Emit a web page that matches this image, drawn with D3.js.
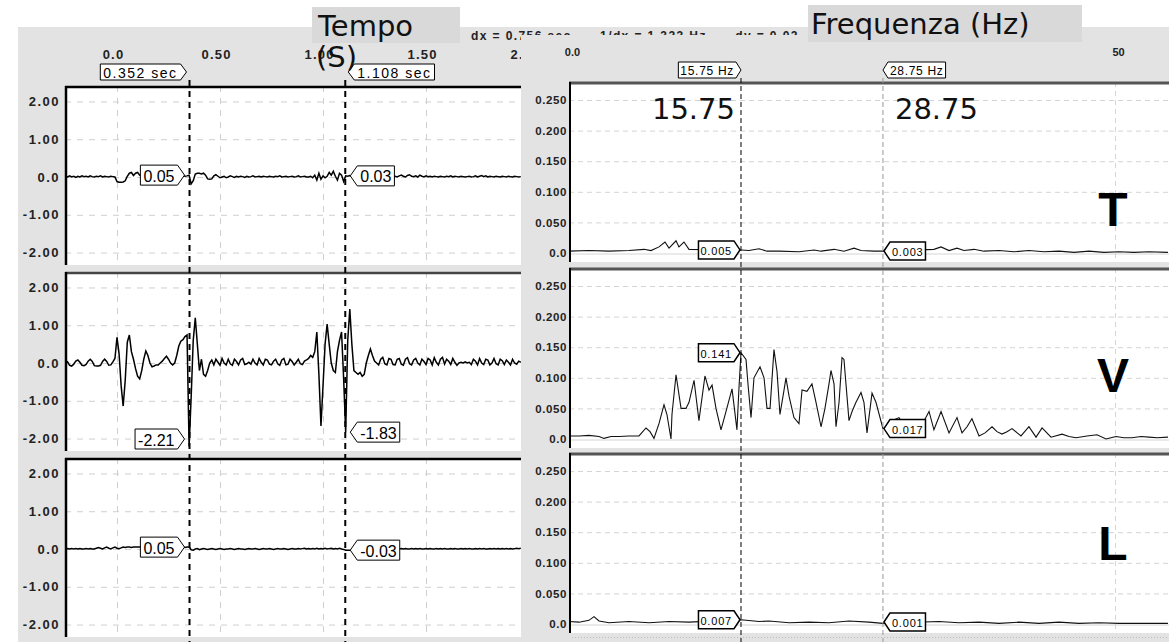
<!DOCTYPE html>
<html>
<head>
<meta charset="utf-8">
<script src="https://cdn.jsdelivr.net/npm/d3@7/dist/d3.min.js"></script>
<style>
  body { margin: 0; background: #fff; }
  svg { display: block; font-family: "Liberation Sans", Arial, sans-serif; }
</style>
</head>
<body>
<svg id="chart" width="1169" height="642"></svg>
<script>
// time signals: one sample every 10 ms, first sample at -0.25 s
const timeStart = -0.25;
const timeStep = 0.01;

const signalT = [
  0.02, 0.0, 0.03, 0.0, 0.02, -0.01, 0.02, 0.0, 0.03, 0.01,
  0.02, 0.0, 0.03, 0.01, 0.0, 0.02, 0.01, 0.03, 0.0, 0.02,
  0.01, 0.0, 0.02, 0.01, 0.0, -0.12, -0.14, -0.14, -0.13, -0.1,
  0.02, 0.1, 0.12, 0.04, 0.1, 0.12, 0.05, 0.03, 0.05, 0.02,
  0.04, 0.03, 0.05, 0.02, 0.04, 0.03, 0.05, 0.02, 0.04, 0.06,
  0.03, 0.05, 0.02, 0.04, 0.06, 0.03, 0.05, 0.04, 0.02, 0.03,
  0.05, -0.18, -0.1, 0.08, 0.1, 0.1, 0.08, 0.1, 0.05, -0.05,
  -0.06, -0.05, 0.03, 0.06, 0.02, -0.02, 0.0, 0.02, -0.02, 0.0,
  0.03, 0.01, -0.01, 0.02, 0.0, 0.02, 0.01, -0.01, 0.02, 0.0,
  0.01, 0.03, 0.0, 0.01, 0.02, 0.0, 0.02, 0.01, 0.0, 0.02,
  0.01, 0.0, 0.02, 0.01, 0.03, 0.0, 0.01, 0.02, 0.0, 0.01,
  0.02, 0.0, 0.01, 0.03, 0.0, 0.01, 0.02, 0.0, 0.0, 0.02,
  -0.02, 0.05, -0.08, 0.1, -0.06, 0.03, -0.02, 0.02, 0.12, 0.05,
  0.15, 0.02, -0.08, 0.1, 0.05, -0.12, 0.03, 0.02, 0.04, 0.01,
  0.03, 0.02, 0.0, 0.03, 0.01, 0.02, 0.04, 0.01, 0.02, 0.0,
  0.02, 0.03, 0.01, 0.02, 0.0, 0.03, 0.01, 0.02, 0.0, 0.01,
  0.02, 0.0, 0.03, 0.05, 0.02, 0.0, 0.04, 0.06, 0.02, 0.01,
  0.03, 0.0, 0.05, 0.02, 0.0, 0.03, 0.01, 0.02, 0.0, 0.02,
  0.01, 0.0, 0.02, 0.01, 0.0, 0.02, 0.01, 0.03, 0.0, 0.02,
  0.01, 0.0, 0.02, 0.01, 0.0, 0.01, 0.02, 0.0, 0.01, 0.03,
  0.0, 0.02, 0.04, 0.01, 0.03, 0.0, 0.02, 0.01, 0.0, 0.02,
  0.01, 0.0, 0.02, 0.01, 0.0, 0.02, 0.01, 0.0, 0.02, 0.01,
  0.0, 0.01
];

const signalV = [
  0.0, 0.03, -0.06, -0.08, -0.03, 0.05, 0.08, 0.02, -0.06, -0.07,
  -0.04, 0.05, 0.1, 0.04, -0.07, -0.08, -0.08, -0.06, 0.04, 0.1,
  0.04, -0.06, -0.05, 0.03, 0.12, 0.68, 0.25, -0.6, -1.14, -0.45,
  0.55, 0.74, 0.3, 0.1, -0.15, -0.35, -0.42, -0.2, 0.1, 0.32,
  0.2, 0.0, -0.1, -0.08, -0.05, -0.05, 0.0, 0.05, 0.12, 0.18,
  0.1, 0.0, -0.05, 0.0, 0.2, 0.45, 0.58, 0.62, 0.7, 0.74,
  -2.21, -0.9, 0.6, 1.2, 0.5, -0.2, 0.1, -0.3, -0.35, -0.2,
  0.0, 0.08, -0.05, 0.1, 0.02, -0.06, 0.12, 0.0, -0.05, 0.1,
  -0.02, -0.06, 0.1, 0.04, -0.05, 0.08, 0.12, -0.04, -0.02, 0.02,
  -0.03, 0.1, 0.0, -0.05, 0.12, 0.02, -0.05, 0.1, 0.08, -0.03,
  -0.05, 0.05, 0.1, -0.02, -0.06, 0.08, 0.12, -0.05, -0.03, 0.1,
  0.04, -0.05, 0.02, 0.1, -0.02, -0.04, 0.05, 0.08, 0.12, 0.2,
  0.15, 0.3, 0.82, -0.3, -1.67, -0.6, 0.5, 1.03, 0.5, 0.0,
  -0.2, -0.25, 0.3, 0.6, 0.82, -0.4, -1.83, 0.6, 1.43, 0.5,
  -0.2, -0.25, -0.3, -0.25, -0.35, -0.3, 0.0, 0.2, 0.37, 0.2,
  0.05, 0.0, -0.05, 0.1, 0.15, -0.02, -0.05, 0.12, 0.1, -0.04,
  -0.05, 0.1, 0.12, -0.03, -0.06, 0.1, 0.14, -0.02, -0.05, 0.08,
  0.12, 0.0, -0.05, 0.1, 0.04, -0.04, 0.12, 0.08, -0.05, 0.14,
  0.02, -0.05, 0.1, 0.15, -0.03, 0.1, 0.05, -0.04, 0.12, 0.02,
  -0.06, 0.0, 0.02, 0.0, 0.03, 0.0, 0.02, -0.04, 0.1, 0.05,
  -0.05, 0.12, 0.0, -0.04, 0.1, 0.08, -0.05, 0.0, 0.12, -0.02,
  -0.05, 0.1, 0.06, -0.04, 0.08, 0.02, -0.05, 0.1, 0.0, -0.03,
  0.05, 0.02
];

const signalL = [
  0.0, 0.01, 0.0, 0.01, 0.0, 0.01, 0.0, 0.01, 0.0, 0.0,
  0.01, 0.0, 0.01, 0.0, 0.0, 0.02, 0.04, 0.02, 0.0, 0.03,
  0.05, 0.02, 0.0, 0.03, 0.05, 0.02, 0.01, 0.03, 0.05, 0.04,
  0.05, 0.05, 0.04, 0.05, 0.05, 0.05, 0.05, 0.05, 0.05, 0.05,
  0.05, 0.05, 0.05, 0.05, 0.05, 0.05, 0.05, 0.05, 0.05, 0.05,
  0.05, 0.05, 0.05, 0.05, 0.05, 0.05, 0.05, 0.05, 0.04, 0.05,
  0.05, -0.02, -0.03, 0.0, 0.01, -0.02, 0.0, 0.01, 0.0, -0.01,
  0.0, 0.01, 0.0, -0.01, 0.0, 0.01, 0.0, -0.01, 0.0, 0.0,
  0.01, 0.0, -0.01, 0.0, 0.01, 0.0, 0.0, -0.01, 0.0, 0.01,
  0.0, 0.0, 0.01, 0.0, -0.01, 0.0, 0.01, 0.0, 0.0, 0.01,
  0.0, -0.01, 0.0, 0.01, 0.0, 0.0, 0.01, 0.0, -0.01, 0.0,
  0.01, 0.0, 0.0, 0.01, 0.0, 0.01, 0.02, 0.0, 0.01, 0.0,
  0.01, 0.0, 0.02, 0.0, 0.01, 0.0, 0.02, 0.0, 0.01, 0.02,
  0.0, 0.01, 0.0, 0.02, 0.0, -0.01, -0.03, -0.03, -0.03, -0.03,
  -0.03, -0.02, -0.02, -0.02, -0.02, -0.02, -0.02, -0.02, -0.02, -0.02,
  -0.02, -0.02, -0.02, -0.02, -0.02, -0.02, -0.02, -0.02, -0.01, 0.0,
  0.01, 0.0, 0.0, 0.01, 0.0, 0.01, 0.0, 0.0, 0.01, 0.0,
  0.01, 0.0, 0.01, 0.0, 0.0, 0.01, 0.0, 0.01, 0.0, 0.0,
  0.01, 0.0, 0.01, 0.0, 0.01, 0.0, 0.0, 0.01, 0.0, 0.01,
  0.0, 0.0, 0.01, 0.0, 0.01, 0.0, 0.01, 0.0, 0.0, 0.01,
  0.0, 0.01, 0.0, 0.01, 0.0, 0.0, 0.01, 0.0, 0.01, 0.0,
  0.01, 0.0, 0.01, 0.0, 0.01, 0.0, 0.01, 0.0, 0.01, 0.02,
  0.01, 0.02
];

const timeTicks = [0, 0.5, 1, 1.5, 2];
const timeTickLabels = ['0.0', '0.50', '1.00', '1.50', '2.00'];
const ampTicks = [2, 1, 0, -1, -2];
const ampTickLabels = ['2.00', '1.00', '0.0', '-1.00', '-2.00'];
const timeCursors = [0.352, 1.108];
const timeCursorLabels = ['0.352 sec', '1.108 sec'];
const timeCursorValues = [[0.05, 0.03], [-2.21, -1.83], [0.05, -0.03]];
const timeCursorText = [['0.05', '0.03'], ['-2.21', '-1.83'], ['0.05', '-0.03']];
const timeInfo = 'dx = 0.756 sec      1/dx = 1.323 Hz      dy = 0.02';

// spectra (Hz, amplitude)
const specTHz = [0, 1.83, 3.66, 5.49, 6.87, 7.51, 8.24, 8.79, 9.16, 9.8,
  10.07, 10.53, 10.99, 15.75, 16.48, 17.4, 18.13, 19.23, 21.06, 22.44,
  23.08, 24.27, 25.18, 26.1, 26.74, 27.93, 28.75, 33.42, 34.07, 34.8,
  35.53, 36.17, 37.09, 38.0, 39.38, 40.75, 42.12, 43.5, 44.87, 46.25,
  47.62, 48.99, 50.37, 51.74, 53.11, 54.85];
const specTAmp = [0.003, 0.004, 0.003, 0.004, 0.006, 0.004, 0.01, 0.018, 0.008, 0.02,
  0.01, 0.018, 0.006, 0.005, 0.004, 0.007, 0.003, 0.003, 0.002, 0.005,
  0.003, 0.006, 0.003, 0.008, 0.004, 0.003, 0.003, 0.006, 0.01, 0.004,
  0.008, 0.004, 0.006, 0.003, 0.004, 0.002, 0.004, 0.002, 0.003, 0.001,
  0.003, 0.001, 0.002, 0.001, 0.002, 0.001];

const specVHz = [0, 0.92, 1.83, 2.75, 3.2, 3.85, 4.58, 5.49, 6.41, 7.05,
  7.42, 7.78, 8.24, 8.7, 8.97, 9.34, 9.43, 9.8, 10.26, 10.71,
  10.99, 11.45, 11.9, 12.45, 12.82, 13.1, 13.46, 13.92, 14.38, 14.93,
  15.38, 15.57, 15.75, 16.21, 16.39, 16.67, 16.94, 17.49, 17.86, 18.13,
  18.41, 18.77, 19.05, 19.32, 19.69, 19.87, 20.15, 20.6, 21.06, 21.34,
  21.79, 22.25, 22.62, 23.08, 23.44, 23.81, 23.99, 24.27, 24.45, 24.73,
  25.0, 25.18, 25.64, 25.92, 26.28, 26.74, 27.01, 27.29, 27.75, 28.11,
  28.75, 29.03, 29.58, 30.22, 30.77, 31.59, 32.23, 32.97, 33.42, 34.07,
  34.8, 35.53, 35.99, 36.45, 36.9, 37.55, 38.1, 38.74, 39.19, 39.65,
  40.11, 40.57, 41.39, 42.12, 42.77, 43.32, 44.14, 45.15, 45.79, 46.43,
  47.44, 48.35, 49.18, 50.09, 50.82, 51.56, 52.38, 53.11, 53.85, 54.85];
const specVAmp = [0.005, 0.005, 0.006, 0.004, 0.001, 0.004, 0.004, 0.005, 0.005, 0.018,
  0.012, 0.001, 0.025, 0.056, 0.04, 0.0, 0.04, 0.105, 0.05, 0.05,
  0.06, 0.096, 0.03, 0.103, 0.08, 0.088, 0.05, 0.015, 0.045, 0.082,
  0.015, 0.085, 0.141, 0.13, 0.09, 0.035, 0.1, 0.118, 0.1, 0.05,
  0.05, 0.146, 0.11, 0.04, 0.08, 0.1, 0.07, 0.035, 0.025, 0.08,
  0.078, 0.09, 0.06, 0.02, 0.05, 0.09, 0.112, 0.09, 0.02, 0.06,
  0.133, 0.13, 0.03, 0.045, 0.06, 0.076, 0.06, 0.01, 0.075, 0.06,
  0.017, 0.02, 0.03, 0.035, 0.02, 0.015, 0.02, 0.045, 0.015, 0.045,
  0.01, 0.035, 0.01, 0.02, 0.033, 0.005, 0.01, 0.02, 0.012, 0.008,
  0.012, 0.017, 0.005, 0.02, 0.003, 0.018, 0.003, 0.008, 0.004, 0.002,
  0.005, 0.007, 0.0, 0.004, 0.002, 0.002, 0.004, 0.003, 0.002, 0.003];

const specLHz = [0, 0.92, 1.83, 2.29, 2.75, 3.66, 5.49, 7.33, 9.16, 10.99,
  15.75, 17.4, 18.32, 20.15, 21.98, 23.81, 25.64, 27.47, 28.75, 33.88,
  35.71, 37.55, 39.38, 41.21, 43.04, 44.87, 46.7, 48.53, 50.37, 52.2, 54.85];
const specLAmp = [0.004, 0.003, 0.006, 0.012, 0.005, 0.002, 0.004, 0.002, 0.004, 0.003,
  0.007, 0.004, 0.005, 0.002, 0.003, 0.002, 0.005, 0.003, 0.001, 0.004,
  0.002, 0.003, 0.001, 0.003, 0.001, 0.003, 0.001, 0.002, 0.001, 0.001, 0.001];

const freqTicks = [0, 50];
const freqTickLabels = ['0.0', '50'];
const specTicks = [0.25, 0.2, 0.15, 0.1, 0.05, 0];
const specTickLabels = ['0.250', '0.200', '0.150', '0.100', '0.050', '0.0'];
const freqCursors = [15.75, 28.75];
const freqCursorLabels = ['15.75 Hz', '28.75 Hz'];
const freqCursorValues = [[0.005, 0.003], [0.141, 0.017], [0.007, 0.001]];
const freqCursorText = [['0.005', '0.003'], ['0.141', '0.017'], ['0.007', '0.001']];
const componentNames = ['T', 'V', 'L'];

// ---------------------------------------------------------------------------
const GRAY = '#e3e3e3';
const svg = d3.select('#chart');
const defs = svg.append('defs');

function callout(parent, label, tipX, cy, dir, o) {
  const g = parent.append('g');
  const text = g.append('text')
    .attr('font-size', o.size)
    .attr('letter-spacing', o.spacing || 0)
    .attr('fill', '#000')
    .attr('dominant-baseline', 'central')
    .text(label);
  const w = text.node().getComputedTextLength() + 2 * o.pad;
  const h = o.h, a = o.arrow;
  let x0, pts;
  if (dir > 0) {
    x0 = tipX - a - w;
    pts = [[x0, cy - h / 2], [tipX - a, cy - h / 2], [tipX, cy], [tipX - a, cy + h / 2], [x0, cy + h / 2]];
  } else {
    x0 = tipX + a;
    pts = [[tipX, cy], [x0, cy - h / 2], [x0 + w, cy - h / 2], [x0 + w, cy + h / 2], [x0, cy + h / 2]];
  }
  g.insert('path', 'text')
    .attr('d', d3.line()(pts) + 'Z')
    .attr('fill', '#fff')
    .attr('stroke', '#000')
    .attr('stroke-width', o.sw || 1);
  text.attr('x', x0 + o.pad).attr('y', cy + 1);
}

// ---------------- left: time signals ----------------
svg.append('rect').attr('x', 18).attr('y', 27).attr('width', 1151).attr('height', 615).attr('fill', GRAY);

const left = svg.append('g');
const xTime = d3.scaleLinear().domain([-0.2524, 1.961]).range([65, 521]);
const panelTopsL = [86, 272, 458];
const panelHL = 179;
const signals = [signalT, signalV, signalL];

left.append('g')
  .attr('transform', 'translate(-4, 59)')
  .call(d3.axisTop(xTime).tickValues(timeTicks).tickFormat((d, i) => timeTickLabels[i]).tickSize(0).tickPadding(0))
  .call(g => g.select('.domain').remove())
  .call(g => g.selectAll('text')
    .attr('font-family', '"Liberation Sans", Arial, sans-serif')
    .attr('font-size', 13).attr('font-weight', 'bold').attr('letter-spacing', 1.2).attr('fill', '#222'));

signals.forEach((series, p) => {
  const top = panelTopsL[p];
  const y = d3.scaleLinear().domain([-2.33, 2.41]).range([top + panelHL, top]);
  const g = left.append('g');
  g.append('rect').attr('x', 65).attr('y', top).attr('width', 456).attr('height', panelHL).attr('fill', '#fff');

  g.append('g')
    .attr('transform', 'translate(65,0)')
    .call(d3.axisLeft(y).tickValues(ampTicks).tickSize(-456).tickFormat(''))
    .call(a => a.select('.domain').remove())
    .call(a => a.selectAll('line').attr('stroke', '#cfcfcf').attr('stroke-dasharray', '6,6'));
  g.append('g')
    .attr('transform', `translate(0,${top})`)
    .call(d3.axisTop(xTime).tickValues([0, 0.5, 1, 1.5]).tickSize(-panelHL).tickFormat(''))
    .call(a => a.select('.domain').remove())
    .call(a => a.selectAll('line').attr('stroke', '#cfcfcf').attr('stroke-dasharray', '6,6'));

  g.append('g')
    .attr('transform', 'translate(65,0)')
    .call(d3.axisLeft(y).tickValues(ampTicks).tickFormat((d, i) => ampTickLabels[i]).tickSize(0).tickPadding(5))
    .call(a => a.select('.domain').remove())
    .call(a => a.selectAll('text')
      .attr('font-family', '"Liberation Sans", Arial, sans-serif')
      .attr('font-size', 13).attr('font-weight', 'bold').attr('letter-spacing', 1.5).attr('fill', '#222'));

  defs.append('clipPath').attr('id', 'clipL' + p)
    .append('rect').attr('x', 65).attr('y', top).attr('width', 456).attr('height', panelHL);
  g.append('path')
    .datum(series)
    .attr('clip-path', `url(#clipL${p})`)
    .attr('fill', 'none')
    .attr('stroke', '#000')
    .attr('stroke-width', 1.5)
    .attr('d', d3.line().x((d, i) => xTime(timeStart + i * timeStep)).y(d => y(d)));

  g.append('line').attr('x1', 65).attr('x2', 521).attr('y1', top + 1).attr('y2', top + 1)
    .attr('stroke', p === 1 ? '#444' : '#000').attr('stroke-width', 2.5);
  g.append('line').attr('x1', 66).attr('x2', 66).attr('y1', top).attr('y2', top + panelHL)
    .attr('stroke', '#000').attr('stroke-width', 2.5);
});

// time cursors
timeCursors.forEach((c, k) => {
  left.append('line')
    .attr('x1', xTime(c)).attr('x2', xTime(c)).attr('y1', 80).attr('y2', 642)
    .attr('stroke', '#000').attr('stroke-width', 2).attr('stroke-dasharray', '6,5');
  const dir = k === 0 ? 1 : -1;
  callout(left, timeCursorLabels[k], xTime(c) - 3 * dir, 72, dir, { size: 14, spacing: 1.5, pad: 3, h: 16, arrow: 6 });
  signals.forEach((s, p) => {
    const top = panelTopsL[p];
    const y = d3.scaleLinear().domain([-2.33, 2.41]).range([top + panelHL, top]);
    const cy = Math.max(top + 12, Math.min(top + panelHL - 12, y(timeCursorValues[p][k])));
    callout(left, timeCursorText[p][k], xTime(c) - 5 * dir, cy, dir, { size: 16, pad: 3, h: 20, arrow: 7 });
  });
});

left.append('text').attr('x', 471).attr('y', 40)
  .attr('font-size', 12).attr('font-weight', 'bold').attr('letter-spacing', 1.4).attr('fill', '#222')
  .attr('xml:space', 'preserve').style('white-space', 'pre')
  .text(timeInfo);

// ---------------- right: spectra ----------------
svg.append('rect').attr('x', 521).attr('y', 35).attr('width', 648).attr('height', 607).attr('fill', GRAY);
const right = svg.append('g');
const xFreq = d3.scaleLinear().domain([0, 55]).range([569, 1169.6]);
const panelTopsR = [82, 268, 453];
const panelHR = 180;
const spectra = [[specTHz, specTAmp], [specVHz, specVAmp], [specLHz, specLAmp]];

right.append('g')
  .attr('transform', 'translate(3, 56)')
  .call(d3.axisTop(xFreq).tickValues(freqTicks).tickFormat((d, i) => freqTickLabels[i]).tickSize(0).tickPadding(0))
  .call(g => g.select('.domain').remove())
  .call(g => g.selectAll('text')
    .attr('font-family', '"Liberation Sans", Arial, sans-serif')
    .attr('font-size', 11).attr('font-weight', 'bold').attr('fill', '#222'));

spectra.forEach(([hz, amp], p) => {
  const top = panelTopsR[p];
  const y = d3.scaleLinear().domain([-0.0147, 0.2794]).range([top + panelHR, top]);
  const g = right.append('g');
  g.append('rect').attr('x', 569).attr('y', top).attr('width', 600).attr('height', panelHR).attr('fill', '#fff');

  g.append('g')
    .attr('transform', 'translate(569,0)')
    .call(d3.axisLeft(y).tickValues(specTicks.slice(0, 5)).tickSize(-600).tickFormat(''))
    .call(a => a.select('.domain').remove())
    .call(a => a.selectAll('line').attr('stroke', '#d4d4d4').attr('stroke-dasharray', '5,4'));
  g.append('line').attr('x1', 569).attr('x2', 1169).attr('y1', y(0) + 1).attr('y2', y(0) + 1)
    .attr('stroke', '#d4d4d4');
  g.append('g')
    .attr('transform', `translate(0,${top})`)
    .call(d3.axisTop(xFreq).tickValues([50]).tickSize(-panelHR).tickFormat(''))
    .call(a => a.select('.domain').remove())
    .call(a => a.selectAll('line').attr('stroke', '#d4d4d4').attr('stroke-dasharray', '5,4'));

  g.append('g')
    .attr('transform', 'translate(568,0)')
    .call(d3.axisLeft(y).tickValues(specTicks).tickFormat((d, i) => specTickLabels[i]).tickSize(0).tickPadding(1))
    .call(a => a.select('.domain').remove())
    .call(a => a.selectAll('text')
      .attr('font-family', '"Liberation Sans", Arial, sans-serif')
      .attr('font-size', 11.5).attr('font-weight', 'bold').attr('letter-spacing', 0.6).attr('fill', '#222'));

  defs.append('clipPath').attr('id', 'clipR' + p)
    .append('rect').attr('x', 569).attr('y', top).attr('width', 600).attr('height', panelHR);
  g.append('path')
    .datum(hz.map((f, i) => [f, amp[i]]))
    .attr('clip-path', `url(#clipR${p})`)
    .attr('fill', 'none')
    .attr('stroke', '#111')
    .attr('stroke-width', 1.1)
    .attr('d', d3.line().x(d => xFreq(d[0])).y(d => y(d[1])));

  g.append('line').attr('x1', 569).attr('x2', 1169).attr('y1', top + 1).attr('y2', top + 1)
    .attr('stroke', '#555').attr('stroke-width', 3);
  g.append('line').attr('x1', 570).attr('x2', 570).attr('y1', top).attr('y2', top + panelHR)
    .attr('stroke', '#000').attr('stroke-width', 2);
});

freqCursors.forEach((c, k) => {
  right.append('line')
    .attr('x1', xFreq(c)).attr('x2', xFreq(c)).attr('y1', 78).attr('y2', 642)
    .attr('stroke', k === 0 ? '#000' : '#9a9a9a').attr('stroke-width', 1).attr('stroke-dasharray', '5,3');
  const dir = k === 0 ? 1 : -1;
  callout(right, freqCursorLabels[k], xFreq(c), 70, dir, { size: 12, spacing: 0.7, pad: 2, h: 16, arrow: 5 });
  spectra.forEach((s, p) => {
    const top = panelTopsR[p];
    const y = d3.scaleLinear().domain([-0.0147, 0.2794]).range([top + panelHR, top]);
    const cy = Math.max(top + 11, Math.min(top + panelHR - 11, y(freqCursorValues[p][k])));
    callout(right, freqCursorText[p][k], xFreq(c) - 1 * dir, cy, dir, { size: 11, spacing: 0.8, pad: 2, h: 18, arrow: 6, sw: 1.5 });
  });
});

// bottom dotted rule
right.append('line').attr('x1', 572).attr('x2', 1169).attr('y1', 637.5).attr('y2', 637.5)
  .attr('stroke', '#bdbdbd').attr('stroke-dasharray', '1,2');

// component letters
const letterY = [226, 392, 560];
componentNames.forEach((n, p) => {
  right.append('text').attr('x', 1113).attr('y', letterY[p])
    .attr('text-anchor', 'middle').attr('font-size', 48).attr('font-weight', 'bold')
    .attr('fill', '#000').text(n);
});

// big cursor readouts
const big = svg.append('g').attr('font-family', '"DejaVu Sans", Verdana, sans-serif').attr('font-size', 29).attr('fill', '#111');
big.append('text').attr('x', xFreq(freqCursors[0]) - 6).attr('y', 119).attr('text-anchor', 'end').text('15.75');
big.append('text').attr('x', xFreq(freqCursors[1]) + 12).attr('y', 119).text('28.75');

// axis title boxes
svg.append('rect').attr('x', 312).attr('y', 7).attr('width', 148).attr('height', 36).attr('fill', '#d9d9d9');
big.append('text').attr('x', 318).attr('y', 36).text('Tempo');
big.append('text').attr('x', 316).attr('y', 67).text('(S)');
svg.append('rect').attr('x', 808).attr('y', 5).attr('width', 274).attr('height', 37).attr('fill', '#d9d9d9');
big.append('text').attr('x', 811).attr('y', 34).text('Frequenza (Hz)');
big.raise();
</script>
</body>
</html>
